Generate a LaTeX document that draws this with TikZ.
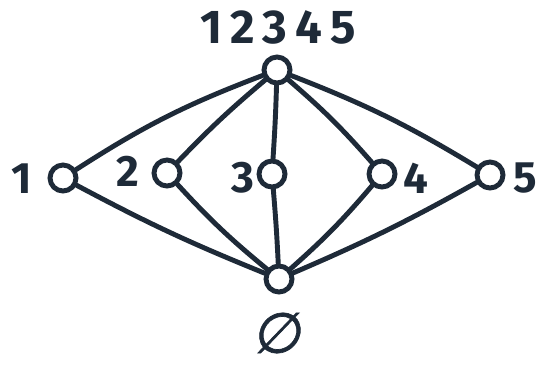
\documentclass[tikz,border=0pt]{standalone}
\usepackage{fontspec}
\setmainfont{Fira Sans}
\newfontfamily\emptyfont[FakeSlant=0.15, FakeBold=1.2]{DejaVu Sans}
\definecolor{ink}{RGB}{30,42,56}
\tikzset{
  elem/.style={circle, draw=ink, line width=2.8pt, minimum size=0.52cm, inner sep=0pt},
  link/.style={draw=ink, line width=2.8pt, line cap=round},
  lab/.style={text=ink, inner sep=0pt, font=\fontsize{25}{28}\selectfont\bfseries}
}

\begin{document}
\begin{tikzpicture}[x=0.02cm, y=-0.02cm]
  \useasboundingbox (0,0) rectangle (543,365);

  % Verband: oben 12345, unten leere Menge, dazwischen die Atome 1..5
  \node[elem] (top) at (277,70)  {};
  \node[elem] (bot) at (279,279) {};
  \node[elem] (n1)  at (63,178)  {};
  \node[elem] (n2)  at (167,173) {};
  \node[elem] (n3)  at (272,174) {};
  \node[elem] (n4)  at (382,174) {};
  \node[elem] (n5)  at (490,175) {};

  % Kanten nach oben
  \draw[link] (top) to[bend right=6] (n1);
  \draw[link] (top) to[bend right=3] (n2);
  \draw[link] (top) to[bend left=1]  (n3);
  \draw[link] (top) to[bend left=4]  (n4);
  \draw[link] (top) to[bend left=5]  (n5);

  % Kanten nach unten
  \draw[link] (bot) to[bend left=3]  (n1);
  \draw[link] (bot) to[bend left=4]  (n2);
  \draw[link] (bot) to[bend right=1] (n3);
  \draw[link] (bot) to[bend right=4] (n4);
  \draw[link] (bot) to[bend right=3] (n5);

  % Beschriftungen
  \node[lab, font=\fontsize{27}{30}\selectfont\bfseries] (ltop) at (278,27) {1\,2\,3\,4\,5};
  \node[lab] (l1) at (22,179)  {1};
  \node[lab] (l2) at (128,171) {2};
  \node[lab] (l3) at (243,178) {3};
  \node[lab] (l4) at (416,178) {4};
  \node[lab] (l5) at (525,178) {5};
  \node[lab, font=\fontsize{32}{34}\selectfont\emptyfont] (lbot) at (277,333) {∅};
\end{tikzpicture}
\end{document}
